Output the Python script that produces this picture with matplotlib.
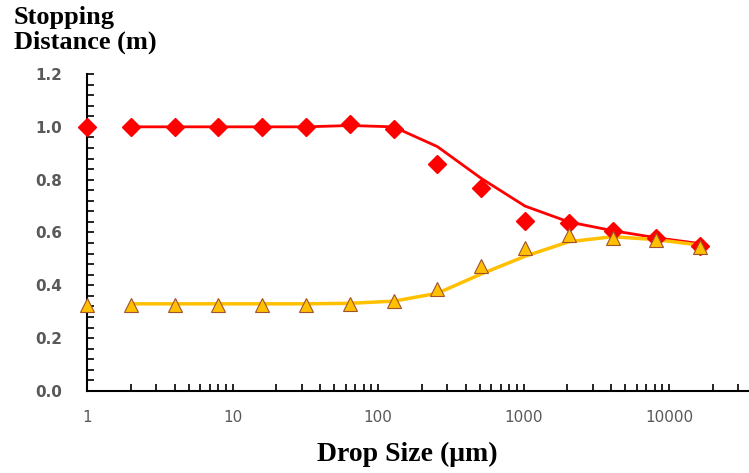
import matplotlib
matplotlib.use("Agg")
import matplotlib.pyplot as plt
from matplotlib.ticker import FixedLocator, MultipleLocator, NullFormatter

# Drop sizes (um) for the measured points
drop_size = [1, 2, 4, 8, 16, 32, 64, 128, 256, 512, 1024, 2048, 4096, 8192, 16384]

# Measured stopping distance (m) - red diamonds
red_points = [1.00, 1.00, 1.00, 1.00, 1.00, 1.00, 1.01, 0.99, 0.86, 0.77,
              0.645, 0.635, 0.605, 0.58, 0.55]

# Measured stopping distance (m) - yellow triangles
yellow_points = [0.325, 0.325, 0.325, 0.325, 0.325, 0.325, 0.33, 0.34, 0.385, 0.475,
                 0.54, 0.59, 0.58, 0.57, 0.545]

# Model curves (start at 2 um)
line_size = [2, 4, 8, 16, 32, 64, 128, 256, 512, 1024, 2048, 4096, 8192, 16384]
red_line = [1.00, 1.00, 1.00, 1.00, 1.00, 1.005, 1.00, 0.925, 0.805, 0.70,
            0.64, 0.607, 0.58, 0.558]
yellow_line = [0.33, 0.33, 0.33, 0.33, 0.33, 0.332, 0.34, 0.37, 0.443, 0.51,
               0.565, 0.584, 0.573, 0.552]

fig = plt.figure(figsize=(7.49, 4.73), dpi=100)
ax = fig.add_axes([87 / 749, (473 - 391) / 473, (748 - 87) / 749, (391 - 74) / 473])

# Lines first, then markers on top
ax.plot(line_size, red_line, color="#FF0000", linewidth=2, zorder=2)
ax.plot(line_size, yellow_line, color="#FFC000", linewidth=2.5, zorder=2)
ax.plot(drop_size, red_points, linestyle="none", marker="D", markersize=9,
        markerfacecolor="#FF0000", markeredgecolor="#FF0000", zorder=3, clip_on=False)
ax.plot(drop_size, yellow_points, linestyle="none", marker="^", markersize=10,
        markerfacecolor="#FFC000", markeredgecolor="#A0522D", markeredgewidth=0.8,
        zorder=3, clip_on=False)

# Axes scales
ax.set_xscale("log")
ax.set_xlim(1, 10 ** ((748 - 87) / 145.5))
ax.set_ylim(0, 1.2)

# Spines
ax.spines["top"].set_visible(False)
ax.spines["right"].set_visible(False)
ax.spines["left"].set_linewidth(1.5)
ax.spines["bottom"].set_linewidth(1.5)

# Ticks
ax.xaxis.set_major_locator(FixedLocator([1, 10, 100, 1000, 10000]))
ax.set_xticklabels(["1", "10", "100", "1000", "10000"])
ax.xaxis.set_minor_formatter(NullFormatter())
ax.yaxis.set_major_locator(MultipleLocator(0.2))
ax.yaxis.set_minor_locator(MultipleLocator(0.04))
ax.yaxis.set_major_formatter(plt.FuncFormatter(lambda v, p: f"{v:.1f}"))
ax.tick_params(axis="both", which="both", direction="in", width=1.2, colors="black",
               labelcolor="#595959", labelsize=11, length=5)
ax.tick_params(axis="x", pad=14)
ax.tick_params(axis="y", pad=18)
for lab in ax.get_yticklabels():
    lab.set_fontweight("bold")

# Axis titles
fig.text(14 / 749, 1 - 6 / 473, "Stopping\nDistance (m)", fontsize=19,
         fontweight="bold", family="Liberation Serif", ha="left", va="top",
         linespacing=1.1)
fig.text(407 / 749, 1 - 454 / 473, "Drop Size (μm)", fontsize=20, fontweight="bold",
         family="Liberation Serif", ha="center", va="center")

plt.savefig("out.png", dpi=100)
